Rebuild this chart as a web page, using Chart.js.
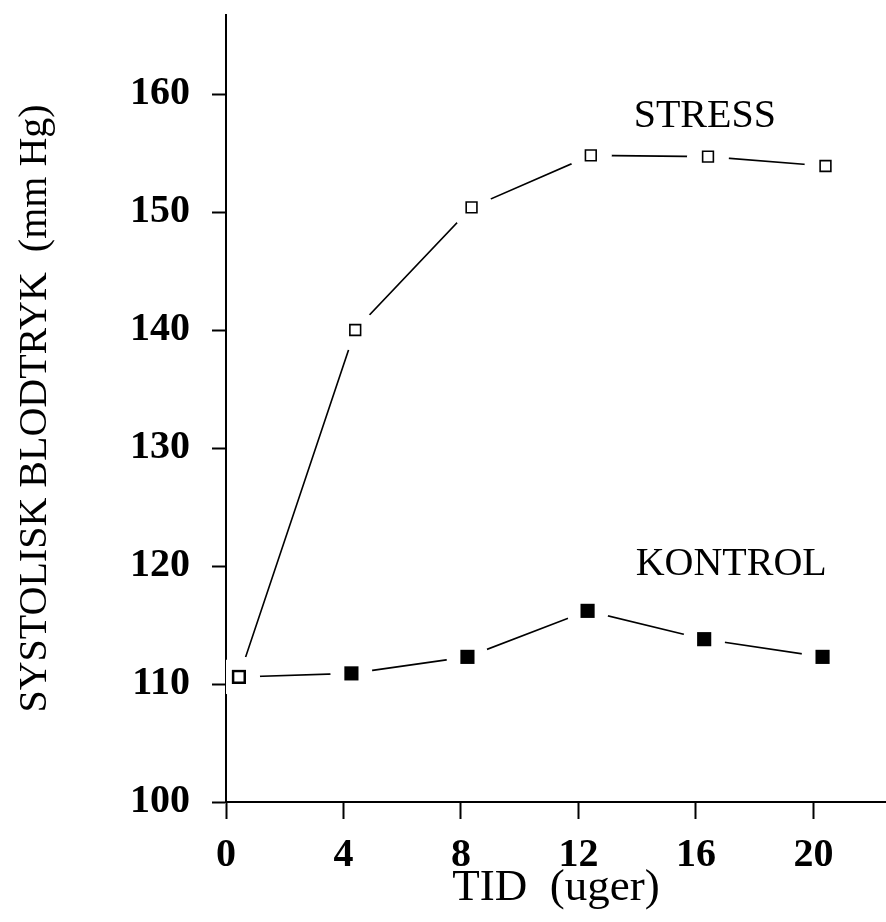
<!DOCTYPE html>
<html>
<head>
<meta charset="utf-8">
<title>Systolisk blodtryk</title>
<script src="https://cdn.jsdelivr.net/npm/chart.js@4.4.1/dist/chart.umd.min.js"></script>
<style>
  html, body { margin: 0; padding: 0; background: #fff; overflow: hidden; }
  #wrap { width: 886px; height: 922px; }
  canvas { display: block; }
</style>
</head>
<body>
<div id="wrap"><canvas id="bpChart" width="886" height="922"></canvas></div>
<script>
// data (weeks, mm Hg)
const stressWeeks = [0.44, 4.40, 8.36, 12.42, 16.41, 20.41];
const stressValues = [110.6, 140.0, 150.4, 154.8, 154.7, 153.9];
const kontrolWeeks = [0.44, 4.27, 8.22, 12.31, 16.28, 20.31];
const kontrolValues = [110.6, 110.9, 112.3, 116.2, 113.8, 112.3];
const xTicks = [0, 4, 8, 12, 16, 20];
const yTicks = [100, 110, 120, 130, 140, 150, 160];

const serif = '"Liberation Serif", "Times New Roman", serif';
const toPoints = (xs, ys) => xs.map((w, i) => ({ x: w, y: ys[i] }));
const stressPts = toPoints(stressWeeks, stressValues);
const kontrolPts = toPoints(kontrolWeeks, kontrolValues);

// text labels next to the curves
const seriesLabels = {
  id: 'seriesLabels',
  afterDatasetsDraw(chart, args, opts) {
    const { ctx, scales: { x, y } } = chart;
    ctx.save();
    ctx.font = '40px ' + serif;
    ctx.fillStyle = '#000';
    ctx.textAlign = 'center';
    ctx.textBaseline = 'alphabetic';
    opts.items.forEach(it => {
      ctx.fillText(it.text, x.getPixelForValue(it.x), y.getPixelForValue(it.y));
    });
    ctx.restore();
  }
};

const lineDs = (pts) => ({
  data: pts, showLine: true, borderColor: '#000', borderWidth: 1.6,
  pointRadius: 0, tension: 0, order: 3
});
// white blobs that open a gap in the line round every marker
const haloDs = (pts) => ({
  data: pts, showLine: false, pointStyle: 'circle', pointRadius: 21,
  pointBackgroundColor: '#fff', pointBorderWidth: 0, order: 2
});

const ctx = document.getElementById('bpChart').getContext('2d');
new Chart(ctx, {
  type: 'scatter',
  data: {
    datasets: [
      lineDs(stressPts),
      lineDs(kontrolPts),
      haloDs(stressPts),
      haloDs(kontrolPts),
      { // STRESS - open squares
        data: stressPts, showLine: false, pointStyle: 'rect', pointRadius: 7.6,
        pointBackgroundColor: '#fff', pointBorderColor: '#000', pointBorderWidth: 1.6, order: 1
      },
      { // KONTROL - filled squares
        data: kontrolPts, showLine: false, pointStyle: 'rect', pointRadius: 10,
        pointBackgroundColor: '#000', pointBorderColor: '#000', pointBorderWidth: 0, order: 1
      }
    ]
  },
  options: {
    responsive: false,
    animation: false,
    devicePixelRatio: 1,
    layout: { autoPadding: false, padding: { top: 15, right: 0, left: 0, bottom: 0 } },
    plugins: {
      legend: { display: false },
      tooltip: { enabled: false },
      seriesLabels: {
        items: [
          { text: 'STRESS', x: 16.3, y: 157.2 },
          { text: 'KONTROL', x: 17.2, y: 119.2 }
        ]
      }
    },
    scales: {
      x: {
        type: 'linear', min: 0, max: 22.47, z: 1,
        border: { color: '#000', width: 2 },
        grid: { drawOnChartArea: false, drawTicks: true, tickLength: 17, tickWidth: 2, tickColor: '#000' },
        afterBuildTicks: s => { s.ticks = xTicks.map(v => ({ value: v })); },
        ticks: { color: '#000', padding: 13, maxRotation: 0, font: { family: serif, size: 40, weight: 'bold' } },
        title: { display: true, text: 'TID  (uger)', color: '#000', font: { family: serif, size: 45 }, padding: { top: 0, bottom: 7 } },
        afterFit: s => { s.height = 120; s.paddingLeft = 0; s.paddingRight = 0; }
      },
      y: {
        type: 'linear', min: 100, max: 166.7, z: 1,
        border: { color: '#000', width: 2 },
        grid: { drawOnChartArea: false, drawTicks: true, tickLength: 14, tickWidth: 2, tickColor: '#000' },
        afterBuildTicks: s => { s.ticks = yTicks.map(v => ({ value: v })); },
        ticks: { color: '#000', padding: 22, font: { family: serif, size: 40, weight: 'bold' } },
        title: { display: true, text: 'SYSTOLISK BLODTRYK  (mm Hg)', color: '#000', font: { family: serif, size: 40 }, padding: { top: 11, bottom: 0 } },
        afterFit: s => { s.width = 226; s.paddingTop = 0; s.paddingBottom = 0; }
      }
    }
  },
  plugins: [seriesLabels]
});
</script>
</body>
</html>
